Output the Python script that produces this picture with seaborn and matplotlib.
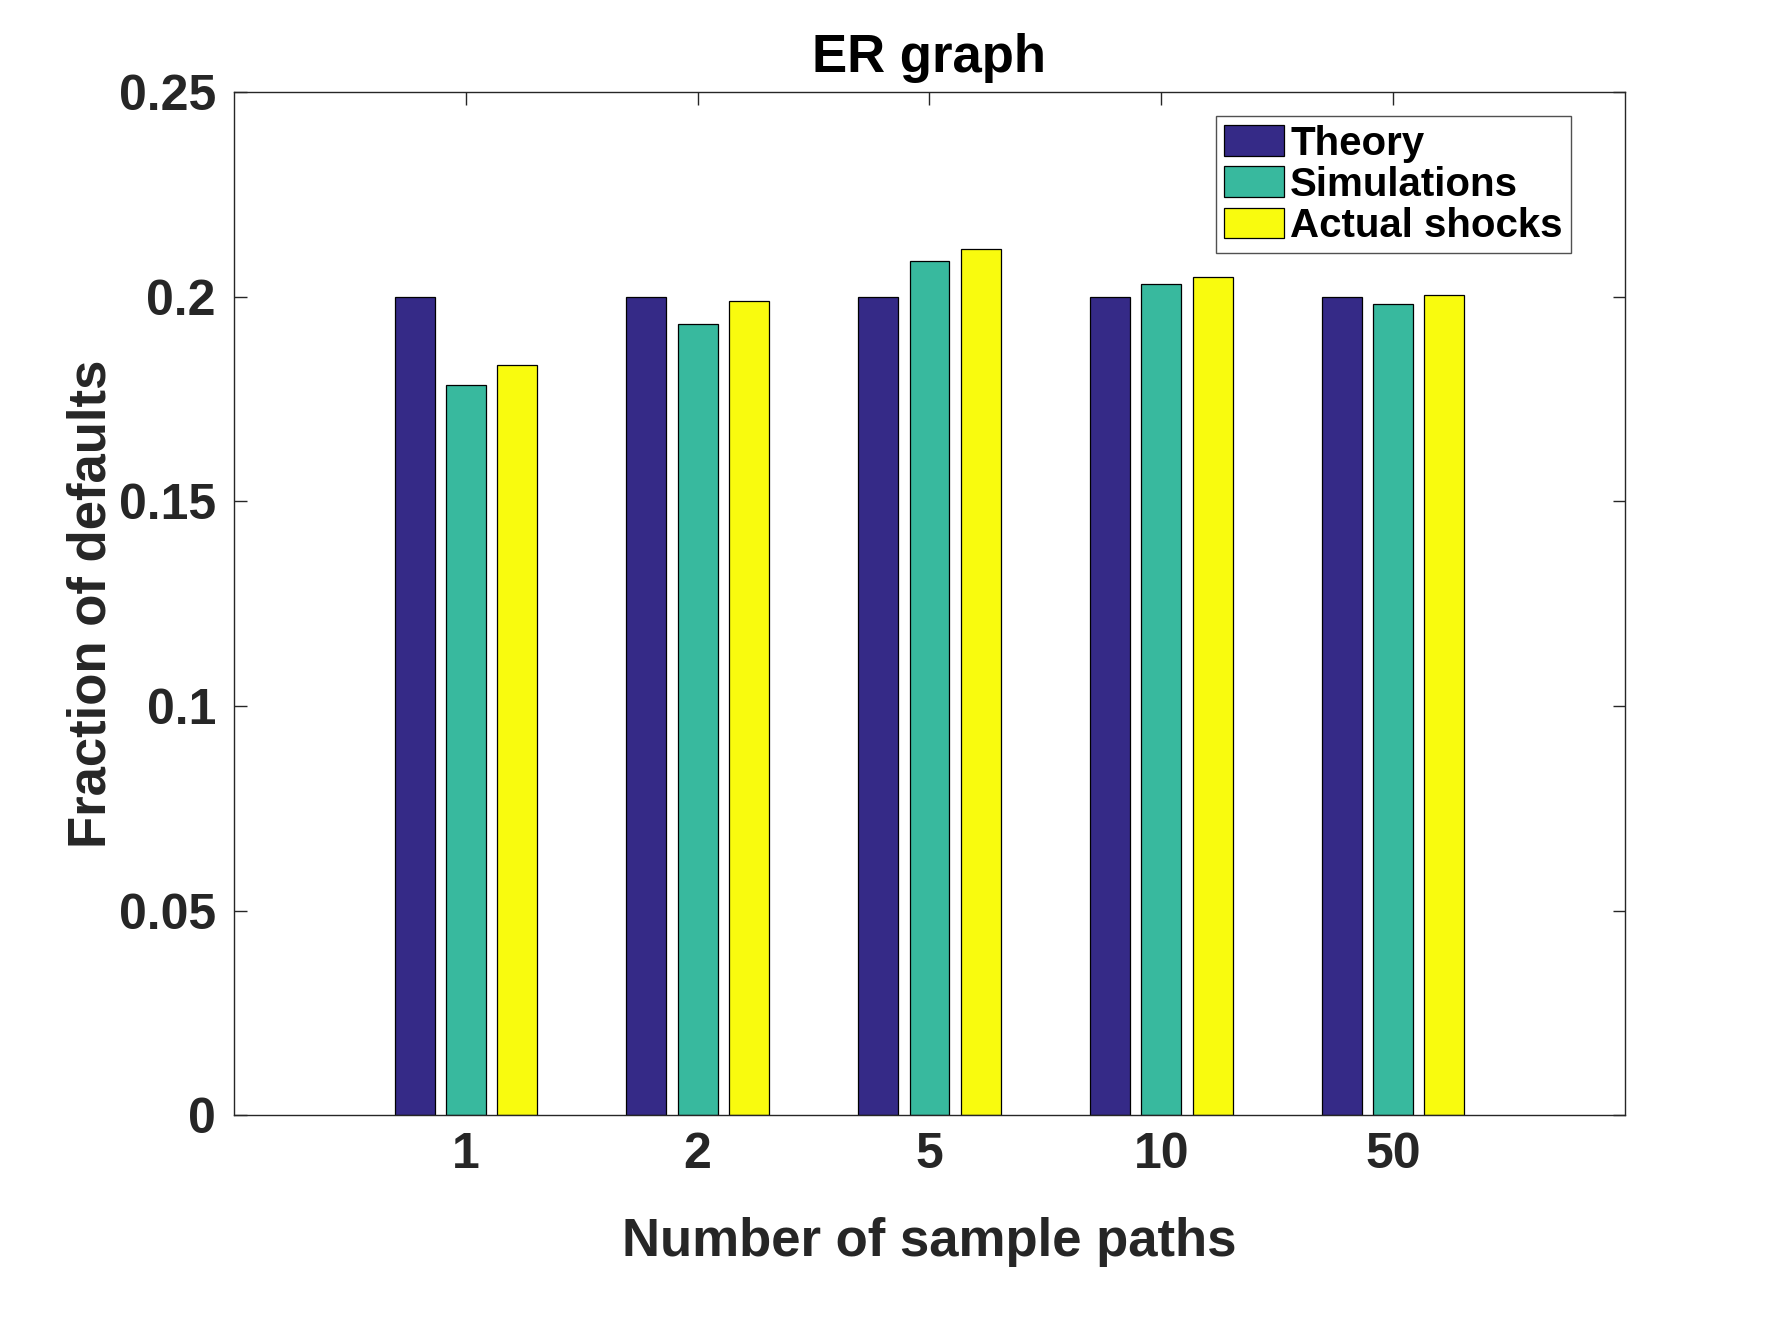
import numpy as np
import pandas as pd
import matplotlib
matplotlib.use("Agg")
import matplotlib.pyplot as plt
import seaborn as sns

categories = ["1", "2", "5", "10", "50"]
theory = [0.2000, 0.2000, 0.2000, 0.2000, 0.2000]
simulations = [0.1784, 0.1932, 0.2086, 0.2030, 0.1981]
actual_shocks = [0.1833, 0.1988, 0.2115, 0.2049, 0.2005]
series_names = ["Theory", "Simulations", "Actual shocks"]
colors = ["#352A87", "#38B99E", "#F9FB0E"]
ytick_vals = [0, 0.05, 0.1, 0.15, 0.2, 0.25]
ytick_labels = ["0", "0.05", "0.1", "0.15", "0.2", "0.25"]

rows = []
for name, vals in zip(series_names, [theory, simulations, actual_shocks]):
    for c, v in zip(categories, vals):
        rows.append({"paths": c, "value": v, "series": name})
df = pd.DataFrame(rows)

sns.set_theme(style="white")
plt.rcParams["font.family"] = ["Liberation Sans", "DejaVu Sans"]
plt.rcParams["font.weight"] = "bold"

fig = plt.figure(figsize=(17.88, 13.32), dpi=100)
ax = fig.add_axes([0.1309, 0.1628, 0.9088 - 0.1309, 0.931 - 0.1628])

sns.barplot(data=df, x="paths", y="value", hue="series", order=categories,
            hue_order=series_names, palette=colors, saturation=1, width=0.663, gap=0.22,
            edgecolor="black", linewidth=0.9, ax=ax, legend=True)

ax.set_xlim(-1, 5)
ax.set_ylim(0, 0.25)
ax.set_yticks(ytick_vals)
ax.set_yticklabels(ytick_labels)
dark = "#262626"
ax.tick_params(axis="both", which="both", direction="in", length=9, width=1.0,
               colors=dark, labelsize=36, top=True, right=True, bottom=True, left=True)
ax.tick_params(axis="x", pad=12)
ax.tick_params(axis="y", pad=13)
for lbl in ax.get_xticklabels() + ax.get_yticklabels():
    lbl.set_fontweight("bold")
for s in ax.spines.values():
    s.set_visible(True)
    s.set_color(dark)
    s.set_linewidth(1.0)

ax.set_xlabel("Number of sample paths", fontsize=38, fontweight="bold", color=dark, labelpad=28.5)
ax.set_ylabel("Fraction of defaults", fontsize=38, fontweight="bold", color=dark, labelpad=1.5)
ax.set_title("ER graph", fontsize=38, fontweight="bold", color="black", pad=14)

leg = ax.legend(loc="upper right", bbox_to_anchor=(0.961, 0.976), borderaxespad=0,
                fontsize=29, frameon=True, fancybox=False, shadow=False,
                handlelength=1.5, handleheight=0.8, handletextpad=0.15,
                labelspacing=0.08, borderpad=0.2, title=None)
leg.get_frame().set_edgecolor(dark)
leg.get_frame().set_linewidth(1.0)
for t in leg.get_texts():
    t.set_fontweight("bold")
    t.set_color("black")

fig.savefig("out.png", dpi=100, facecolor="white")
